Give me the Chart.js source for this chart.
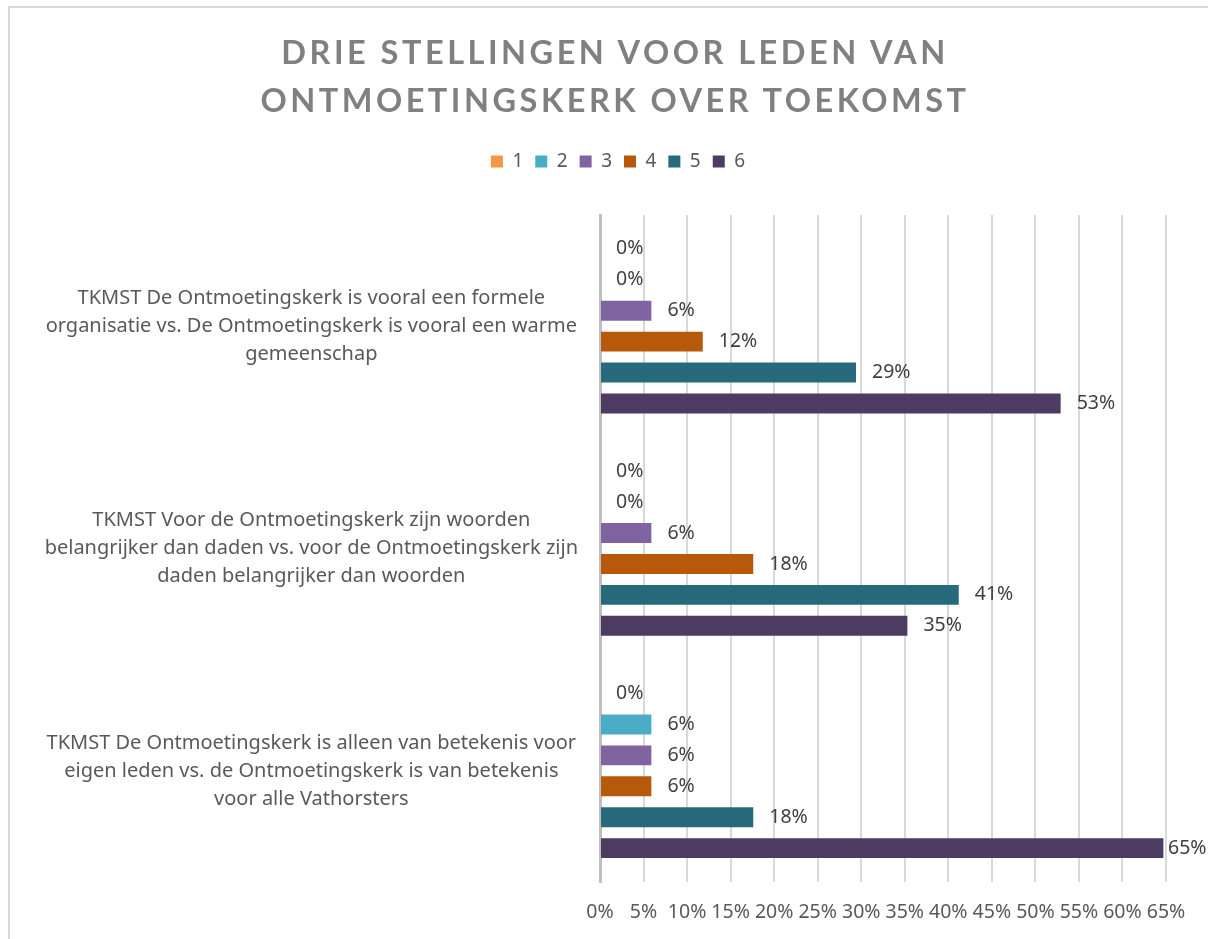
<!DOCTYPE html>
<html>
<head>
<meta charset="utf-8">
<script src="https://cdn.jsdelivr.net/npm/chart.js@4"></script>
<style>
    body { margin: 0; background: #fff; overflow: hidden; }
    #frame { position: absolute; left: 8px; top: 6px; width: 1300px; height: 1000px; border: 2px solid #d9d9d9; box-sizing: border-box; }
    #title {
        position: absolute; left: 0; top: 28px; width: 1230px;
        text-align: center; font-family: Lato, sans-serif; font-weight: bold;
        font-size: 32.5px; line-height: 48px; letter-spacing: 3.5px; color: #808080;
    }
    canvas { position: absolute; left: 0; top: 0; }
</style>
</head>
<body>
<div id="frame"></div>
<canvas id="chart" width="1208" height="939"></canvas>
<div id="title">DRIE STELLINGEN VOOR LEDEN VAN<br>ONTMOETINGSKERK OVER TOEKOMST</div>
<script>
const statements = [
    ['TKMST De Ontmoetingskerk is vooral een formele', 'organisatie vs. De Ontmoetingskerk is vooral een warme', 'gemeenschap'],
    ['TKMST Voor de Ontmoetingskerk zijn woorden', 'belangrijker dan daden vs. voor de Ontmoetingskerk zijn', 'daden belangrijker dan woorden'],
    ['TKMST De Ontmoetingskerk is alleen van betekenis voor', 'eigen leden vs. de Ontmoetingskerk is van betekenis', 'voor alle Vathorsters']
];
const answers = ['1', '2', '3', '4', '5', '6'];
const colors = ['#F79646', '#4BACC6', '#8064A2', '#B7590B', '#276A7C', '#4D3B62'];

// percentages per answer, one value per statement
const score1 = [0, 0, 0];
const score2 = [0, 0, 5.9];
const score3 = [5.9, 5.9, 5.9];
const score4 = [11.8, 17.6, 5.9];
const score5 = [29.4, 41.2, 17.6];
const score6 = [52.9, 35.3, 64.7];
const scores = [score1, score2, score3, score4, score5, score6];

const xTicks = [0, 5, 10, 15, 20, 25, 30, 35, 40, 45, 50, 55, 60, 65];

const FONT = '"Noto Sans", sans-serif';

// more room under the legend, and legend centred a bit to the right
const legendPlace = {
    id: 'legendPlace',
    beforeInit(chart) {
        const fit = chart.legend.fit;
        chart.legend.fit = function () {
            fit.call(this);
            this.height += 34;
        };
    },
    afterLayout(chart) {
        chart.legend.left += 35;
        chart.legend.right += 35;
    }
};

const barLabels = {
    id: 'barLabels',
    afterDatasetsDraw(chart) {
        const ctx = chart.ctx;
        ctx.save();
        ctx.font = '19.5px ' + FONT;
        ctx.fillStyle = '#404040';
        ctx.textAlign = 'left';
        ctx.textBaseline = 'middle';
        chart.data.datasets.forEach((ds, i) => {
            chart.getDatasetMeta(i).data.forEach((bar, j) => {
                const x = Math.min(bar.x + 16, chart.chartArea.right + 2);
                ctx.fillText(Math.round(ds.data[j]) + '%', x, bar.y);
            });
        });
        ctx.restore();
    }
};

new Chart(document.getElementById('chart'), {
    type: 'bar',
    data: {
        labels: statements,
        datasets: answers.map((a, i) => ({
            label: a,
            data: scores[i],
            backgroundColor: colors[i],
            categoryPercentage: 0.834,
            barPercentage: 0.645
        }))
    },
    options: {
        indexAxis: 'y',
        responsive: false,
        animation: false,
        layout: { padding: { top: 140, left: 0, right: 42, bottom: 0 } },
        plugins: {
            title: { display: false },
            tooltip: { enabled: false },
            legend: {
                position: 'top',
                labels: {
                    boxWidth: 12,
                    boxHeight: 12,
                    padding: 12,
                    color: '#595959',
                    font: { family: FONT, size: 19 }
                }
            }
        },
        scales: {
            x: {
                min: 0,
                max: 65,
                afterBuildTicks: s => { s.ticks = xTicks.map(v => ({ value: v })); },
                afterFit: s => { s.height = 57; },
                grid: { color: '#d9d9d9', lineWidth: 2, drawTicks: false },
                border: { display: false },
                ticks: {
                    padding: 19,
                    maxRotation: 0,
                    autoSkip: false,
                    color: '#595959',
                    font: { family: FONT, size: 19.5 },
                    callback: v => v + '%'
                }
            },
            y: {
                afterFit: s => {
                    s.width = 600;
                    s.paddingTop = 0;
                    s.paddingBottom = 0;
                },
                grid: { display: false, drawTicks: false },
                border: { display: true, color: '#bfbfbf', width: 3 },
                ticks: {
                    crossAlign: 'center',
                    padding: 22,
                    color: '#595959',
                    font: { family: FONT, size: 20, lineHeight: 1.4 }
                }
            }
        }
    },
    plugins: [legendPlace, barLabels]
});
</script>
</body>
</html>
